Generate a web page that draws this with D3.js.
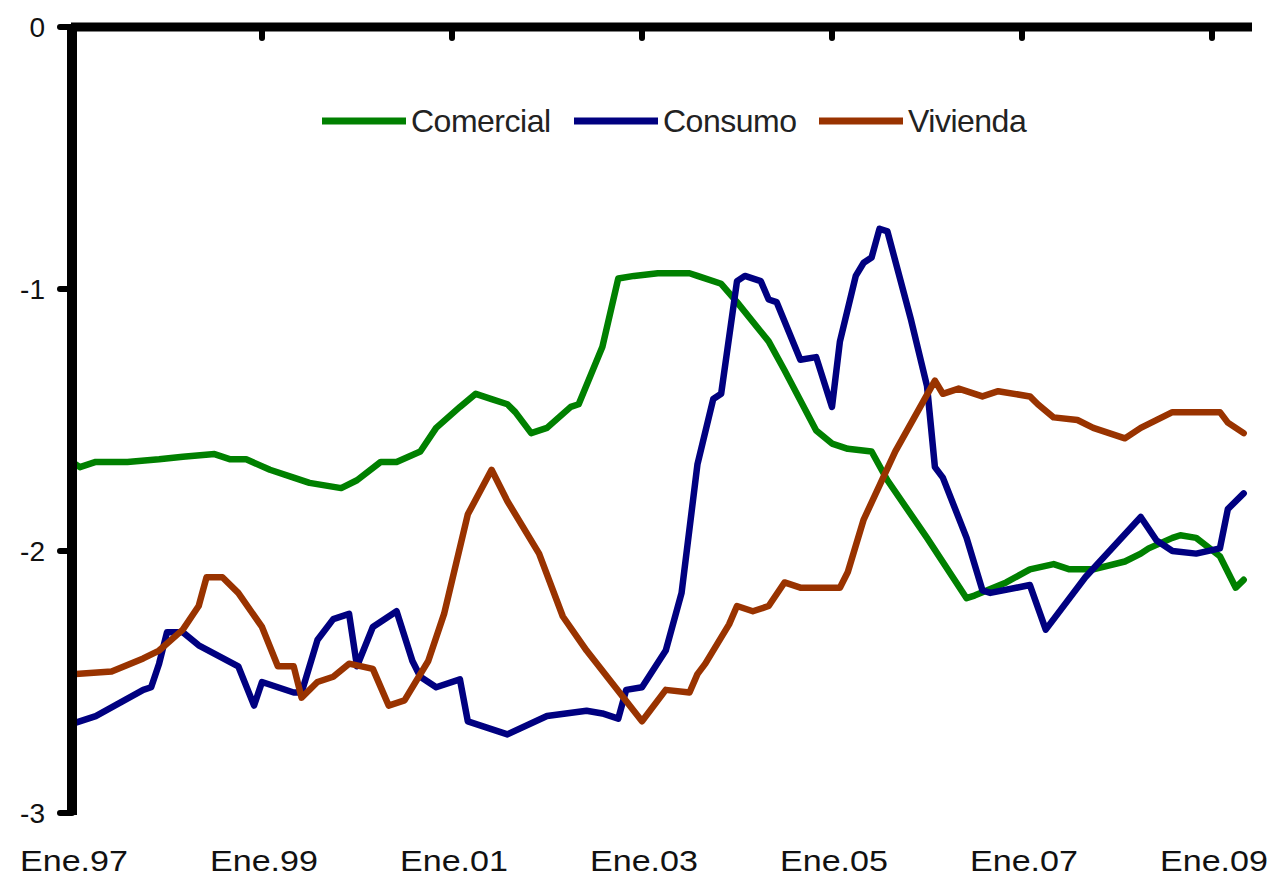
<!DOCTYPE HTML>
<html>
  <head>
  <title>Comercial, Consumo, Vivienda</title>
  <script src="https://d3js.org/d3.v7.min.js" charset="utf-8"></script>
  <style>
  body{
    margin: 0;
    background: white;
    font-family: "Liberation Sans", Arial, sans-serif;
  }
  </style>
  </head>
  <body>
  <script>

    // months counted from Ene.97 (0 = Jan 1997)
    var tickMonths=[0,24,48,72,96,120,144];
    var tickLabels=["Ene.97","Ene.99","Ene.01","Ene.03","Ene.05","Ene.07","Ene.09"];
    var yTicks=[0,-1,-2,-3];

    var comercialMes=[0,1,3,7,11,14,18,20,22,25,28,30,34,36,39,41,44,46,49,51,53,55,56,58,60,63,64,67,69,71,74,78,79,82,84,88,90,94,96,98,101,103,108,113,114,118,121,124,126,129,133,135,136,139,140,142,145,147,148];
    var comercialVal=[-1.66,-1.68,-1.66,-1.66,-1.65,-1.64,-1.63,-1.65,-1.65,-1.69,-1.72,-1.74,-1.76,-1.73,-1.66,-1.66,-1.62,-1.53,-1.45,-1.40,-1.42,-1.44,-1.47,-1.55,-1.53,-1.45,-1.44,-1.22,-0.96,-0.95,-0.94,-0.94,-0.95,-0.98,-1.05,-1.20,-1.31,-1.54,-1.59,-1.61,-1.62,-1.73,-1.95,-2.18,-2.17,-2.12,-2.07,-2.05,-2.07,-2.07,-2.04,-2.01,-1.99,-1.95,-1.94,-1.95,-2.02,-2.14,-2.11];

    var consumoMes=[0,3,9,10,11,12,14,16,21,23,24,28,29,31,33,35,36,38,41,43,44,46,49,50,55,60,65,67,69,70,72,75,77,79,81,82,84,85,87,88,89,92,94,96,97,99,100,101,102,103,106,108,109,110,113,115,116,121,123,128,135,137,139,142,145,146,148];
    var consumoVal=[-2.66,-2.63,-2.53,-2.52,-2.43,-2.31,-2.31,-2.36,-2.44,-2.59,-2.50,-2.54,-2.54,-2.34,-2.26,-2.24,-2.44,-2.29,-2.23,-2.42,-2.48,-2.52,-2.49,-2.65,-2.70,-2.63,-2.61,-2.62,-2.64,-2.53,-2.52,-2.38,-2.16,-1.67,-1.42,-1.40,-0.97,-0.95,-0.97,-1.04,-1.05,-1.27,-1.26,-1.45,-1.20,-0.95,-0.90,-0.88,-0.77,-0.78,-1.12,-1.37,-1.68,-1.72,-1.95,-2.15,-2.16,-2.13,-2.30,-2.10,-1.87,-1.96,-2.00,-2.01,-1.99,-1.84,-1.78];

    var viviendaMes=[0,5,9,11,14,16,17,19,21,24,26,28,29,31,33,35,38,40,42,45,47,50,53,55,59,62,65,72,75,78,79,80,83,84,86,88,90,92,97,98,100,104,109,110,112,115,117,121,122,124,127,129,133,135,139,140,145,146,148];
    var viviendaVal=[-2.47,-2.46,-2.41,-2.38,-2.30,-2.21,-2.10,-2.10,-2.16,-2.29,-2.44,-2.44,-2.56,-2.50,-2.48,-2.43,-2.45,-2.59,-2.57,-2.42,-2.24,-1.86,-1.69,-1.81,-2.01,-2.25,-2.38,-2.65,-2.53,-2.54,-2.47,-2.43,-2.28,-2.21,-2.23,-2.21,-2.12,-2.14,-2.14,-2.08,-1.88,-1.62,-1.35,-1.40,-1.38,-1.41,-1.39,-1.41,-1.44,-1.49,-1.50,-1.53,-1.57,-1.53,-1.47,-1.47,-1.47,-1.51,-1.55];

    var seriesNames=["Comercial","Consumo","Vivienda"];
    var seriesColors=["#008000","#000080","#993300"];

    var width=1276;
    var height=878;

    var svg=d3.select("body")
      .append("svg")
      .attr("width", width)
      .attr("height", height);

    var x=d3.scaleLinear().domain([0,144]).range([72,1212]);
    var y=d3.scaleLinear().domain([-3,0]).range([813,27]);

    // lines
    var series=[
      d3.zip(comercialMes, comercialVal),
      d3.zip(consumoMes, consumoVal),
      d3.zip(viviendaMes, viviendaVal)
    ];

    var line=d3.line()
      .x(function(d){ return x(d[0]); })
      .y(function(d){ return y(d[1]); });

    svg.append("g").selectAll("path")
      .data(series)
      .enter()
      .append("path")
      .attr("d", line)
      .attr("fill", "none")
      .attr("stroke", function(d,i){ return seriesColors[i]; })
      .attr("stroke-width", 6.5)
      .attr("stroke-linejoin", "round")
      .attr("stroke-linecap", "round");

    // axes (x axis sits at the top, at 0)
    var axes=svg.append("g");
    axes.append("line")
      .attr("x1", x(0)-1).attr("x2", 1252)
      .attr("y1", y(0)).attr("y2", y(0))
      .attr("stroke", "#000").attr("stroke-width", 9);
    axes.append("line")
      .attr("x1", x(0)).attr("x2", x(0))
      .attr("y1", y(0)).attr("y2", y(-3)+2)
      .attr("stroke", "#000").attr("stroke-width", 10);

    axes.selectAll(".xt")
      .data(tickMonths.slice(1))
      .enter()
      .append("line")
      .attr("class","xt")
      .attr("x1", function(d){ return x(d); })
      .attr("x2", function(d){ return x(d); })
      .attr("y1", y(0)).attr("y2", y(0)+11)
      .attr("stroke", "#000").attr("stroke-width", 6)
      .attr("stroke-linecap", "round");

    axes.selectAll(".yt")
      .data(yTicks)
      .enter()
      .append("line")
      .attr("class","yt")
      .attr("x1", x(0)-12).attr("x2", x(0))
      .attr("y1", function(d){ return y(d); })
      .attr("y2", function(d){ return y(d); })
      .attr("stroke", "#000").attr("stroke-width", 6)
      .attr("stroke-linecap", "round");

    svg.append("g").selectAll("text")
      .data(yTicks)
      .enter()
      .append("text")
      .attr("x", 45)
      .attr("y", function(d){ return y(d)+10; })
      .attr("text-anchor", "end")
      .attr("font-size", 28)
      .attr("fill", "#111")
      .text(function(d){ return d3.format("d")(d).replace("−","-"); });

    svg.append("g").selectAll("text")
      .data(tickMonths)
      .enter()
      .append("text")
      .attr("x", function(d){ return x(d)+2; })
      .attr("y", 871)
      .attr("text-anchor", "middle")
      .attr("font-size", 30)
      .attr("fill", "#111")
      .attr("textLength", 108)
      .attr("lengthAdjust", "spacingAndGlyphs")
      .text(function(d,i){ return tickLabels[i]; });

    // legend
    var legendX=[322,574,819];
    var legend=svg.append("g");
    legend.selectAll("line")
      .data(seriesNames)
      .enter()
      .append("line")
      .attr("x1", function(d,i){ return legendX[i]; })
      .attr("x2", function(d,i){ return legendX[i]+84; })
      .attr("y1", 121).attr("y2", 121)
      .attr("stroke", function(d,i){ return seriesColors[i]; })
      .attr("stroke-width", 7);
    legend.selectAll("text")
      .data(seriesNames)
      .enter()
      .append("text")
      .attr("x", function(d,i){ return legendX[i]+89; })
      .attr("y", 132)
      .attr("font-size", 32)
      .attr("letter-spacing", -0.5)
      .attr("fill", "#222")
      .text(function(d){ return d; });
  </script>
  </body>
</html>
